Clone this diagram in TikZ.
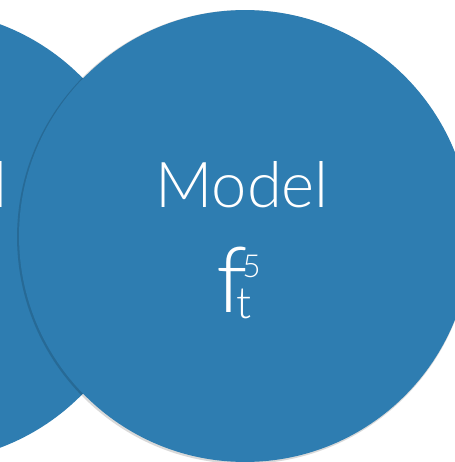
\documentclass[tikz,border=0pt]{standalone}
\usepackage{fontspec}
\setmainfont{Lato Light}
\usepackage{tikz}
\usetikzlibrary{positioning}
\definecolor{disc}{RGB}{46,125,177}

\begin{document}
\begin{tikzpicture}[
  x=0.02cm,y=-0.02cm,
  d/.style={circle,fill=disc,minimum size=9.04cm,inner sep=0pt},
  sh/.style={circle,fill=black,fill opacity=0.15,minimum size=9.08cm,inner sep=0pt},
  lbl/.style={text=white,inner sep=0pt,font=\fontsize{36}{36}\selectfont}
]
\clip (0,0) rectangle (455,462);
\fill[white] (0,0) rectangle (455,462);
\node[d] (back) at (-79,236) {};
\node[lbl,anchor=base] (backname) at (-79,208) {Model};
\node[sh] (shade) at (244,237) {};
\node[d] (front) at (245,236) {};
\node[lbl,anchor=base] (name) at (242,208) {Model};
\node[lbl,anchor=base,font=\fontsize{52}{52}\selectfont] (f) at (232,312) {f};
\node[lbl,anchor=base west,font=\fontsize{25}{25}\selectfont] (sub) at (236,318) {t};
\node[lbl,anchor=base west,font=\fontsize{18}{18}\selectfont] (sup) at (242,277) {5};
\end{tikzpicture}
\end{document}
